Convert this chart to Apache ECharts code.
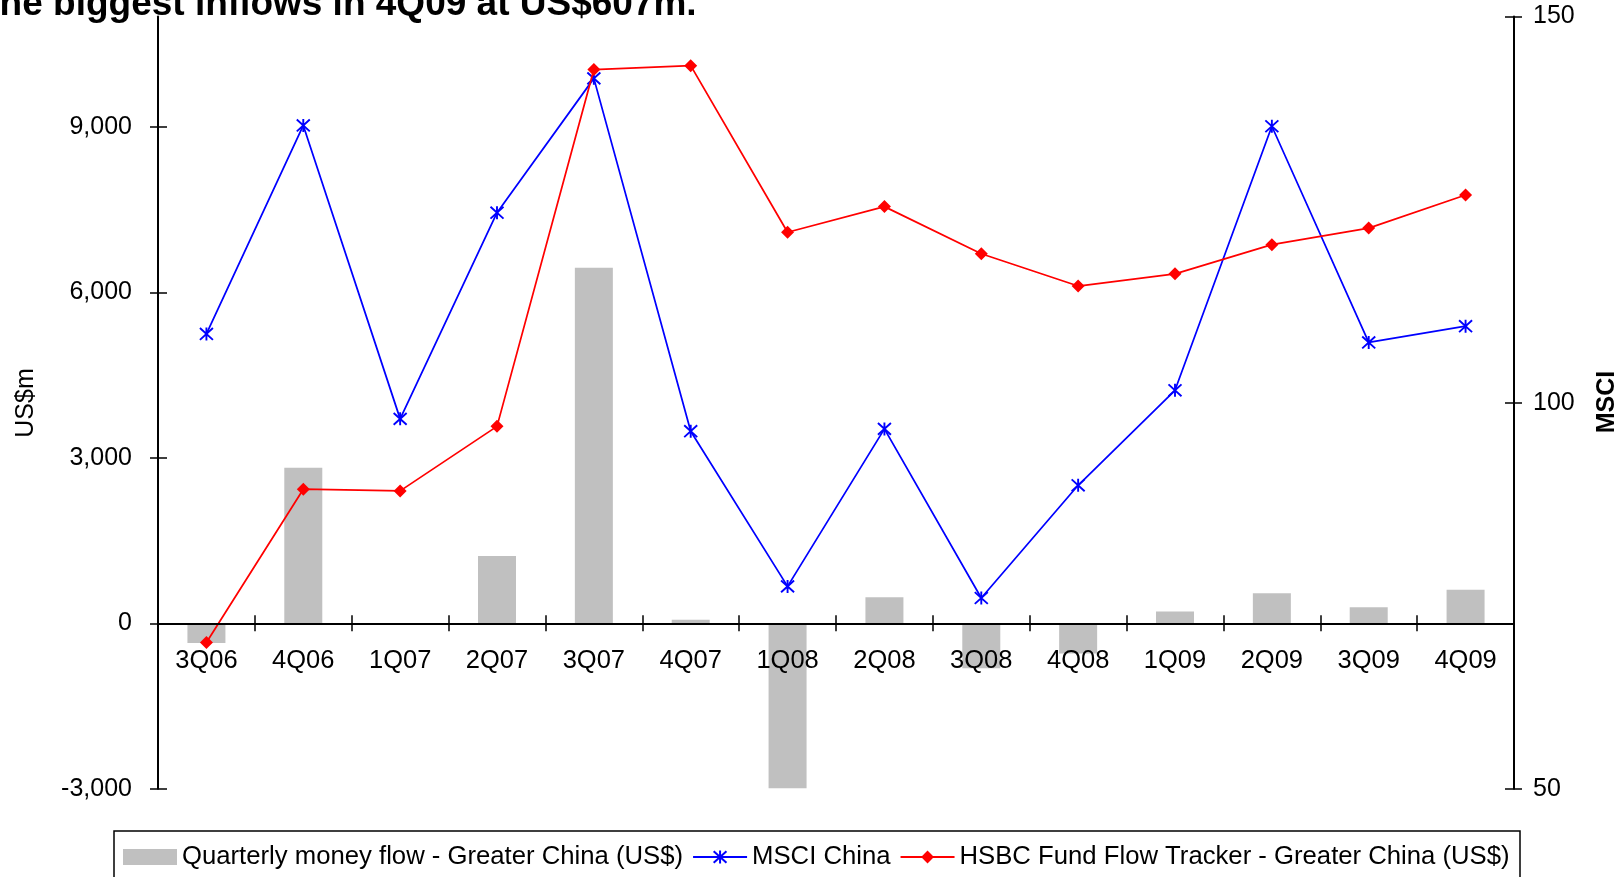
<!DOCTYPE html>
<html>
<head>
<meta charset="utf-8">
<script src="https://cdn.jsdelivr.net/npm/echarts@6/dist/echarts.min.js"></script>
<style>
  html, body { margin: 0; padding: 0; background: #fff; }
  #chart { width: 1623px; height: 877px; }
</style>
</head>
<body>
<div id="chart"></div>
<script>
// Quarterly fund flows into Greater China vs MSCI China
const categories = ['3Q06', '4Q06', '1Q07', '2Q07', '3Q07', '4Q07', '1Q08', '2Q08', '3Q08', '4Q08', '1Q09', '2Q09', '3Q09', '4Q09'];
const quarterlyFlow = [-360, 2820, 0, 1220, 6445, 65, -2990, 470, -815, -550, 215, 545, 290, 607];
const msciChina = [108.9, 135.9, 97.9, 124.6, 142.0, 96.3, 76.2, 96.6, 74.7, 89.3, 101.6, 135.8, 107.8, 109.9];
const flowTracker = [-350, 2430, 2400, 3570, 10040, 10110, 7090, 7555, 6700, 6115, 6335, 6865, 7165, 7765];
const leftTicks = [-3000, 0, 3000, 6000, 9000];

const seriesNames = [
  'Quarterly money flow - Greater China (US$)',
  'MSCI China',
  'HSBC Fund Flow Tracker - Greater China (US$)'
];
const titleText = 'The biggest inflows in 4Q09 at US$607m.';

const FONT = "'Liberation Sans', Arial, sans-serif";
const asterisk = 'path://M0,0L10,10M10,0L0,10M5,-0.5L5,10.5';

const LEFT_MIN = -3000, LEFT_MAX = 11000;
const GRID = { left: 158, right: 109, top: 16.6, bottom: 88.3 };
const plotHeight = 877 - GRID.top - GRID.bottom;
// The category axis sits on the zero line of the left axis
const zeroOffset = -plotHeight * (0 - LEFT_MIN) / (LEFT_MAX - LEFT_MIN);

function fmtThousands(v) {
  const s = Math.abs(v).toString().replace(/\B(?=(\d{3})+(?!\d))/g, ',');
  return (v < 0 ? '-' : '') + s;
}

const chart = echarts.init(document.getElementById('chart'), null, { renderer: 'canvas' });

const leftBase = {
  type: 'value', position: 'left', min: LEFT_MIN, max: LEFT_MAX,
  splitLine: { show: false }
};
const rightBase = {
  type: 'value', position: 'right', min: 50, max: 150, interval: 50,
  splitLine: { show: false }
};

chart.setOption({
  animation: false,
  backgroundColor: '#ffffff',
  grid: Object.assign({ containLabel: false }, GRID),
  legend: {
    left: 123, top: 844, padding: 0,
    itemWidth: 54, itemHeight: 16, itemGap: 9,
    textStyle: { fontSize: 25.7, color: '#000', fontFamily: FONT },
    data: [
      { name: seriesNames[0], icon: 'rect' },
      { name: seriesNames[1] },
      { name: seriesNames[2] }
    ]
  },
  xAxis: [
    {
      type: 'category', data: categories, position: 'bottom', offset: zeroOffset, z: 5,
      axisLine: { onZero: false, lineStyle: { color: '#000', width: 2 } },
      axisTick: { show: true, inside: false, length: 8, lineStyle: { color: '#000', width: 1.5 } },
      axisLabel: { fontSize: 25.5, color: '#000', fontFamily: FONT, margin: 25, interval: 0 },
      splitLine: { show: false }
    },
    {
      type: 'category', data: categories, position: 'bottom', offset: zeroOffset, z: 5,
      axisLine: { show: false, onZero: false },
      axisTick: { show: true, inside: true, length: 8, lineStyle: { color: '#000', width: 1.5 } },
      axisLabel: { show: false },
      splitLine: { show: false }
    }
  ],
  yAxis: [
    Object.assign({}, leftBase, {
      axisLine: { show: true, onZero: false, lineStyle: { color: '#000', width: 2 } },
      axisTick: { show: true, inside: false, length: 8, customValues: leftTicks, lineStyle: { color: '#000', width: 1.5 } },
      axisLabel: { fontSize: 25, color: '#000', fontFamily: FONT, margin: 26, customValues: leftTicks, formatter: fmtThousands }
    }),
    Object.assign({}, rightBase, {
      axisLine: { show: true, onZero: false, lineStyle: { color: '#000', width: 2 } },
      axisTick: { show: true, inside: false, length: 8, lineStyle: { color: '#000', width: 1.5 } },
      axisLabel: { fontSize: 25, color: '#000', fontFamily: FONT, margin: 19 }
    }),
    Object.assign({}, leftBase, {
      axisLine: { show: false, onZero: false },
      axisTick: { show: true, inside: true, length: 9, customValues: leftTicks, lineStyle: { color: '#000', width: 1.5 } },
      axisLabel: { show: false }
    }),
    Object.assign({}, rightBase, {
      axisLine: { show: false, onZero: false },
      axisTick: { show: true, inside: true, length: 9, lineStyle: { color: '#000', width: 1.5 } },
      axisLabel: { show: false }
    })
  ],
  series: [
    {
      name: seriesNames[0], type: 'bar', yAxisIndex: 0, barWidth: 38,
      itemStyle: { color: '#C0C0C0' },
      data: quarterlyFlow
    },
    {
      name: seriesNames[1], type: 'line', yAxisIndex: 1,
      symbol: asterisk, symbolSize: 13, showAllSymbol: true,
      lineStyle: { color: '#0000FF', width: 1.75 },
      itemStyle: { color: '#0000FF', borderColor: '#0000FF', borderWidth: 1.9 },
      data: msciChina, z: 3
    },
    {
      name: seriesNames[2], type: 'line', yAxisIndex: 0,
      symbol: 'diamond', symbolSize: 13, showAllSymbol: true,
      lineStyle: { color: '#FF0000', width: 1.75 },
      itemStyle: { color: '#FF0000' },
      data: flowTracker, z: 4
    }
  ],
  graphic: [
    {
      type: 'text', x: -23, y: 4.7, z: 10,
      style: { text: titleText, fontSize: 37, fontWeight: 'bold', fontFamily: FONT, fill: '#000', textAlign: 'left', textVerticalAlign: 'middle' }
    },
    {
      type: 'text', x: 26, y: 403, rotation: Math.PI / 2, z: 10,
      style: { text: 'US$m', fontSize: 25, fontFamily: FONT, fill: '#000', textAlign: 'center', textVerticalAlign: 'middle' }
    },
    {
      type: 'text', x: 1607, y: 402, rotation: Math.PI / 2, z: 10,
      style: { text: 'MSCI', fontSize: 25, fontWeight: 'bold', fontFamily: FONT, fill: '#000', textAlign: 'center', textVerticalAlign: 'middle' }
    },
    {
      type: 'rect', z: -1, silent: true,
      shape: { x: 114, y: 831, width: 1406, height: 80 },
      style: { fill: 'none', stroke: '#000', lineWidth: 1.5 }
    }
  ]
});
</script>
</body>
</html>
